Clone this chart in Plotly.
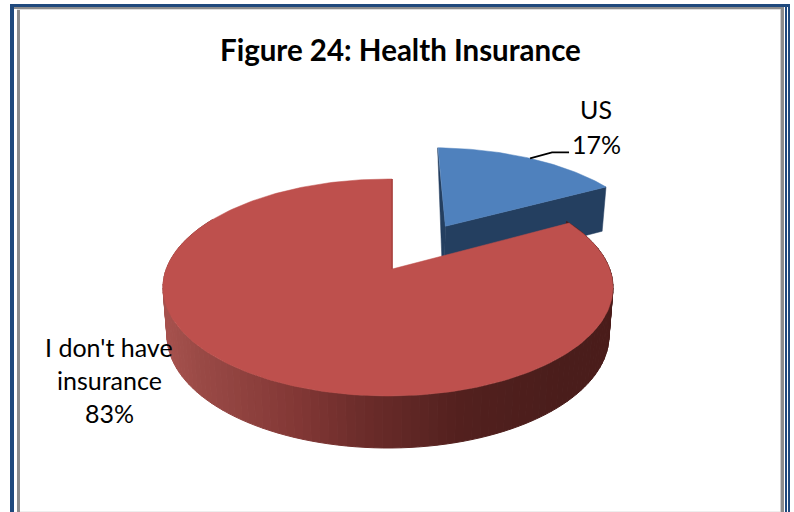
import math
import plotly.graph_objects as go

title = "Figure 24: Health Insurance"
labels = ["US", "I don't have insurance"]
label_lines = [["US", "17%"], ["I don't have", "insurance", "83%"]]
values = [17, 83]
colors_top = ["#4F81BD", "#BE504D"]
color_cut = "#243F60"
color_inner = "#A8403E"

FONT = "Lato"
TILT_Y, TILT_X = -0.17, 0.018
EXPLODE = 0.51

TOP = dict(cx=388, cy=287.5, rx=225, ry=108.5)
LOW = dict(cx=388, cy=335.5, rx=221, ry=112.5)


def project(u, v, e):
    d = 1 + TILT_Y * v
    u1 = u * math.sqrt(1 - TILT_Y ** 2) / d
    v1 = (v + TILT_Y) / d
    d = 1 + TILT_X * u1
    u2 = (u1 + TILT_X) / d
    v2 = v1 * math.sqrt(1 - TILT_X ** 2) / d
    return e["cx"] + e["rx"] * u2, e["cy"] + e["ry"] * v2


def disc(deg, r=1.0, off=(0.0, 0.0)):
    a = math.radians(deg)
    return off[0] + r * math.sin(a), off[1] - r * math.cos(a)


total = sum(values)
split = 360 * values[0] / total
mid = split / 2
off = (EXPLODE * math.sin(math.radians(mid)), -EXPLODE * math.cos(math.radians(mid)))


def wedge(a0, a1, e, offset=(0.0, 0.0)):
    n = max(2, int(abs(a1 - a0)))
    pts = [project(*offset, e)]
    for i in range(n + 1):
        pts.append(project(*disc(a0 + (a1 - a0) * i / n, 1.0, offset), e))
    pts.append(pts[0])
    return [p[0] for p in pts], [p[1] for p in pts]


WALL_STOPS = [(160, "#A8524E"), (197, "#9A4A46"), (297, "#823735"), (363, "#6B2C2A"),
              (463, "#52201E"), (563, "#4A1D1B"), (620, "#4A1C1A")]


def wall_color(x):
    for (x0, c0), (x1, c1) in zip(WALL_STOPS, WALL_STOPS[1:]):
        if x <= x1:
            t = max(0, (x - x0) / (x1 - x0))
            rgb = [round(int(c0[i:i + 2], 16) * (1 - t) + int(c1[i:i + 2], 16) * t) for i in (1, 3, 5)]
            return "#%02X%02X%02X" % tuple(rgb)
    return WALL_STOPS[-1][1]


fig = go.Figure()


def poly(xs, ys, color, width=0.0):
    fig.add_trace(go.Scatter(x=xs, y=ys, mode="lines", fill="toself", fillcolor=color,
                             line=dict(color=color, width=width), hoverinfo="skip", showlegend=False))


# Blue slice: cut faces, then top
c_t = project(*off, TOP)
c_b = project(*off, LOW)
e_t = project(*disc(split, 1.0, off), TOP)
e_b = project(*disc(split, 1.0, off), LOW)
s_t = project(*disc(0, 1.0, off), TOP)
poly([s_t[0] - 0.5, c_t[0], c_b[0], c_t[0] - 3, s_t[0] - 0.5],
     [s_t[1], c_t[1], c_b[1], c_b[1], s_t[1]], color_cut, 0.5)
poly([c_t[0], e_t[0], e_b[0], c_b[0], c_t[0]], [c_t[1], e_t[1], e_b[1], c_b[1], c_t[1]], color_cut, 0.5)
xs, ys = wedge(0, split, TOP, off)
poly(xs, ys, colors_top[0], 0.5)

# Red slice: outer wall in strips, then top
step = 2
a = 60
while a < 300:
    b = min(a + step, 300)
    p0, p1 = project(*disc(a), TOP), project(*disc(b), TOP)
    q0, q1 = project(*disc(a), LOW), project(*disc(b), LOW)
    col = wall_color((p0[0] + p1[0]) / 2)
    poly([p0[0], p1[0], q1[0], q0[0], p0[0]], [p0[1], p1[1], q1[1], q0[1], p0[1]], col, 1)
    a = b
xs, ys = wedge(split, 360, TOP)
poly(xs, ys, colors_top[1], 0.5)

# Thin shaded inner edge of the red slice beside the gap
r_a, r_t = project(0, 0, TOP), project(*disc(0), TOP)
fig.add_trace(go.Scatter(x=[r_a[0], r_t[0]], y=[r_a[1], r_t[1]], mode="lines",
                         line=dict(color=color_inner, width=1.5), hoverinfo="skip", showlegend=False))

# Leader line for the US label
lead = project(*disc(mid, 1.0, off), TOP)
fig.add_trace(go.Scatter(x=[lead[0], lead[0] + 22, lead[0] + 39], y=[lead[1], lead[1] - 6, lead[1] - 6],
                         mode="lines", line=dict(color="#000000", width=1.6), hoverinfo="skip", showlegend=False))

annotations = [dict(x=400, y=49, text=f"<b>{title}</b>", showarrow=False, font=dict(family=FONT, size=29.5, color="#000000"))]
label_pos = [(596, [109, 144]), (109, [347, 380, 413])]
for (lx, lys), lines in zip(label_pos, label_lines):
    for ly, line in zip(lys, lines):
        annotations.append(dict(x=lx, y=ly, text=line, showarrow=False,
                                font=dict(family=FONT, size=25, color="#000000")))

rects = [
    (10, 4, 14, 512, "#1F497D"), (10, 4, 790, 7, "#1F497D"),
    (17, 7, 20, 512, "#8C8C8C"), (14, 7, 784, 9, "#8C8C8C"), (17, 9, 780, 10, "#DDDDDD"),
    (780, 9, 781, 512, "#CCCCCC"), (781, 9, 784, 512, "#8C8C8C"),
    (785, 4, 787, 512, "#1F497D"), (788, 4, 790, 512, "#1F497D"),
    (20, 511, 780, 512, "#EEEEEE"),
]
shapes = [dict(type="rect", x0=a, y0=b, x1=c, y1=d, fillcolor=col, line=dict(width=0), layer="above")
          for a, b, c, d, col in rects]

fig.update_layout(
    width=794, height=512, margin=dict(l=0, r=0, t=0, b=0), autosize=False,
    paper_bgcolor="#FFFFFF", plot_bgcolor="#FFFFFF", showlegend=False,
    xaxis=dict(range=[0, 794], visible=False, fixedrange=True),
    yaxis=dict(range=[512, 0], visible=False, fixedrange=True),
    annotations=annotations, shapes=shapes,
)
fig.write_html("out.html", config={"displayModeBar": False},
               post_script="document.body.style.margin='0';document.documentElement.style.overflow='hidden';")
